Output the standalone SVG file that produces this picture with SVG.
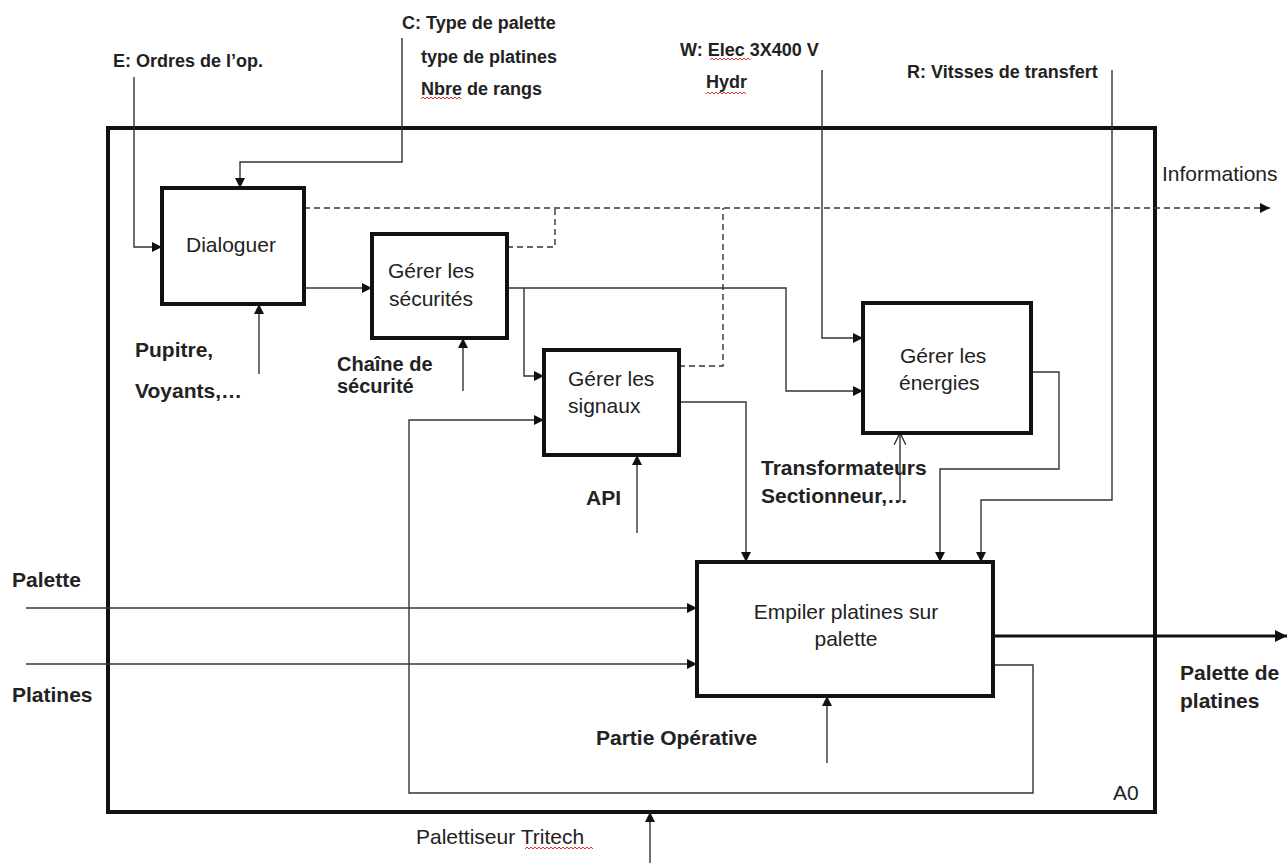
<svg xmlns="http://www.w3.org/2000/svg" width="1287" height="863" viewBox="0 0 1287 863">
<style>
.box{fill:#fff;stroke:#111;stroke-width:4}
.frame{fill:none;stroke:#111;stroke-width:4}
.ln{fill:none;stroke:#333;stroke-width:1.4}
.dash{fill:none;stroke:#333;stroke-width:1.4;stroke-dasharray:6 4}
.thick{fill:none;stroke:#111;stroke-width:3}
.t{font-family:"Liberation Sans",Arial,sans-serif;font-size:21px;fill:#222}
.b{font-family:"Liberation Sans",Arial,sans-serif;font-size:21px;font-weight:bold;fill:#222}
.s{font-family:"Liberation Sans",Arial,sans-serif;font-size:18px;font-weight:bold;fill:#222}
.sq{fill:none;stroke:#e03030;stroke-width:1}
</style>
<defs>
<marker id="ah" viewBox="0 0 10 10" refX="10" refY="5" markerWidth="10" markerHeight="10" markerUnits="userSpaceOnUse" orient="auto"><path d="M0,0 L10,5 L0,10 z" fill="#111"/></marker>
<marker id="ahb" viewBox="0 0 10 10" refX="10" refY="5" markerWidth="12" markerHeight="12" markerUnits="userSpaceOnUse" orient="auto"><path d="M0,0 L10,5 L0,10 z" fill="#111"/></marker>
<marker id="ao" viewBox="0 0 10 10" refX="10" refY="5" markerWidth="12" markerHeight="12" markerUnits="userSpaceOnUse" orient="auto"><path d="M0,0 L10,5 L0,10" fill="none" stroke="#333" stroke-width="1.2"/></marker>
</defs>
<rect width="1287" height="863" fill="#fff"/>
<g id="frame">
<rect class="frame" x="108" y="128" width="1047" height="684"/>
<text class="t" x="1113" y="800">A0</text>
</g>
<g id="connectors">
<polyline class="ln" points="134,77 134,247 162,247" marker-end="url(#ah)"/>
<polyline class="ln" points="402,38 402,162 240,162 240,188" marker-end="url(#ah)"/>
<polyline class="ln" points="822,70 822,338 863,338" marker-end="url(#ah)"/>
<polyline class="ln" points="1112,70 1112,500 981,500 981,562" marker-end="url(#ah)"/>
<polyline class="ln" points="304,288 372,288" marker-end="url(#ah)"/>
<polyline class="ln" points="507,288 786,288 786,391 863,391" marker-end="url(#ah)"/>
<polyline class="ln" points="524,288 524,376 544,376" marker-end="url(#ah)"/>
<polyline class="ln" points="679,402 746,402 746,562" marker-end="url(#ah)"/>
<polyline class="ln" points="1031,372 1059,372 1059,469 940,469 940,562" marker-end="url(#ah)"/>
<polyline class="ln" points="993,665 1033,665 1033,793 409,793 409,420 544,420" marker-end="url(#ah)"/>
<polyline class="ln" points="26,608 697,608" marker-end="url(#ah)"/>
<polyline class="ln" points="26,664 697,664" marker-end="url(#ah)"/>
<polyline class="thick" points="993,636 1287,636" marker-end="url(#ahb)"/>
<polyline class="ln" points="259,374 259,304" marker-end="url(#ah)"/>
<polyline class="ln" points="463,391 463,338" marker-end="url(#ah)"/>
<polyline class="ln" points="637,533 637,455" marker-end="url(#ah)"/>
<polyline class="ln" points="900,502 900,433" marker-end="url(#ao)"/>
<polyline class="ln" points="827,763 827,696" marker-end="url(#ah)"/>
<polyline class="ln" points="650,863 650,812" marker-end="url(#ah)"/>
<polyline class="dash" points="304,208 1270,208" marker-end="url(#ah)"/>
<polyline class="dash" points="507,247 555,247 555,208"/>
<polyline class="dash" points="679,366 723,366 723,208"/>
</g>
<g id="dialoguer">
<rect class="box" x="162" y="188" width="142" height="116"/>
<text class="t" x="186" y="252">Dialoguer</text>
</g>
<g id="securites">
<rect class="box" x="372" y="234" width="135" height="104"/>
<text class="t" x="388" y="278">Gérer les</text>
<text class="t" x="389" y="306">sécurités</text>
</g>
<g id="signaux">
<rect class="box" x="544" y="350" width="135" height="105"/>
<text class="t" x="568" y="386">Gérer les</text>
<text class="t" x="568" y="413">signaux</text>
</g>
<g id="energies">
<rect class="box" x="863" y="303" width="168" height="130"/>
<text class="t" x="900" y="363">Gérer les</text>
<text class="t" x="899" y="390">énergies</text>
</g>
<g id="empiler">
<rect class="box" x="697" y="562" width="296" height="134"/>
<text class="t" x="846" y="619" text-anchor="middle">Empiler platines sur</text>
<text class="t" x="846" y="646" text-anchor="middle">palette</text>
</g>
<g id="labels">
<text class="s" x="113" y="67">E: Ordres de l’op.</text>
<text class="s" x="402" y="29">C: Type de palette</text>
<text class="s" x="421" y="63">type de platines</text>
<text class="s" x="421" y="95">Nbre de rangs</text>
<text class="s" x="680" y="56">W: Elec 3X400 V</text>
<text class="s" x="706" y="88">Hydr</text>
<text class="s" x="907" y="78">R: Vitsses de transfert</text>
<text class="t" x="1162" y="181">Informations</text>
<text class="b" x="135" y="357">Pupitre,</text>
<text class="b" x="135" y="398">Voyants,…</text>
<text class="b" x="337" y="371" style="font-size:20px">Chaîne de</text>
<text class="b" x="337" y="393" style="font-size:20px">sécurité</text>
<text class="b" x="586" y="505">API</text>
<text class="b" x="761" y="475">Transformateurs</text>
<text class="b" x="761" y="503">Sectionneur,…</text>
<text class="b" x="12" y="587">Palette</text>
<text class="b" x="12" y="702">Platines</text>
<text class="b" x="596" y="745">Partie Opérative</text>
<text class="b" x="1180" y="680">Palette de</text>
<text class="b" x="1180" y="708">platines</text>
<text class="t" x="416" y="844">Palettiseur Tritech</text>
<path class="sq" d="M421,99 l2,-2 l2,2 l2,-2 l2,2 l2,-2 l2,2 l2,-2 l2,2 l2,-2 l2,2 l2,-2 l2,2 l2,-2 l2,2 l2,-2 l2,2 l2,-2 l2,2 l2,-2 l2,2"/>
<path class="sq" d="M710,60 l2,-2 l2,2 l2,-2 l2,2 l2,-2 l2,2 l2,-2 l2,2 l2,-2 l2,2 l2,-2 l2,2 l2,-2 l2,2 l2,-2 l2,2 l2,-2 l2,2 l2,-2 l2,2"/>
<path class="sq" d="M706,94 l2,-2 l2,2 l2,-2 l2,2 l2,-2 l2,2 l2,-2 l2,2 l2,-2 l2,2 l2,-2 l2,2 l2,-2 l2,2 l2,-2 l2,2 l2,-2 l2,2 l2,-2 l2,2"/>
<path class="sq" d="M525,849 l2,-2 l2,2 l2,-2 l2,2 l2,-2 l2,2 l2,-2 l2,2 l2,-2 l2,2 l2,-2 l2,2 l2,-2 l2,2 l2,-2 l2,2 l2,-2 l2,2 l2,-2 l2,2 l2,-2 l2,2 l2,-2 l2,2 l2,-2 l2,2 l2,-2 l2,2 l2,-2 l2,2 l2,-2 l2,2 l2,-2 l2,2"/>
</g>
</svg>
